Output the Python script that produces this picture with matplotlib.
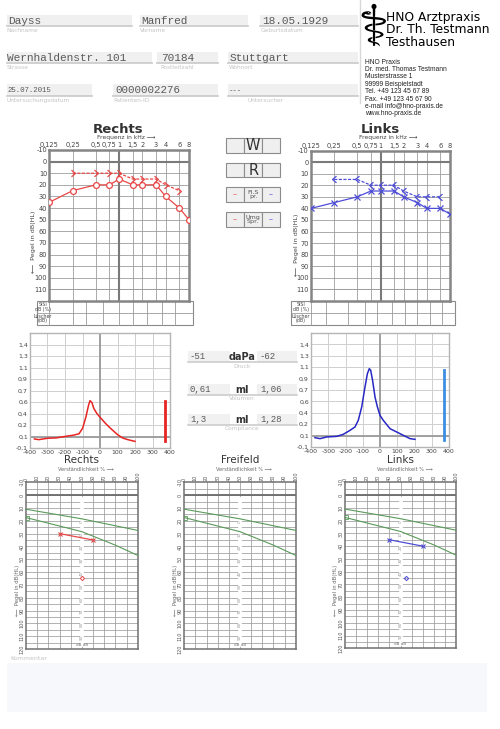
import matplotlib
matplotlib.use('Agg')
import matplotlib.pyplot as plt
import numpy as np
from matplotlib.patches import Rectangle
from matplotlib.path import Path

# ---------------- data ----------------
field_values = ["Dayss", "Manfred", "18.05.1929", "Wernhaldenstr. 101", "70184",
                "Stuttgart", "25.07.2015", "0000002276", "---"]
field_labels = ["Nachname", "Vorname", "Geburtsdatum", "Strasse", "Postleitzahl",
                "Wohnort", "Untersuchungsdatum", "Patienten-ID", "Untersucher"]
logo_lines = ["HNO Arztpraxis", "Dr. Th. Testmann", "Testhausen"]
address_lines = ["HNO Praxis", "Dr. med. Thomas Testmann", "Musterstrasse 1",
                 "99999 Beispielstadt", "Tel. +49 123 45 67 89", "Fax. +49 123 45 67 90",
                 "e-mail info@hno-praxis.de", "www.hno-praxis.de"]

freqs = [0.125, 0.25, 0.5, 0.75, 1, 1.5, 2, 3, 4, 6, 8]
freq_labels = ["0,125", "0,25", "0,5", "0,75", "1", "1,5", "2", "3", "4", "6", "8"]
db_ticks = list(range(-10, 111, 10))
right_air = [35, 25, 20, 20, 15, 20, 20, 20, 30, 40, 50]
bone_freqs = [0.25, 0.5, 0.75, 1, 1.5, 2, 3, 4, 6]
right_bone = [10, 10, 10, 10, 15, 15, 15, 20, 25]
left_air = [40, 35, 30, 25, 25, 25, 30, 35, 40, 40, 45]
left_bone = [15, 15, 20, 20, 20, 25, 30, 30, 30]

buttons = ["W", "R", "Fl.S\npr.", "Umg\nSpr."]

pressure_ticks = [-400, -300, -200, -100, 0, 100, 200, 300, 400]
compliance_tick_labels = ["-0,1", "0,1", "0,2", "0,4", "0,6", "0,7", "0,9", "1,1", "1,3", "1,4", ""]
tymp_right_p = [-375, -350, -299, -250, -200, -150, -120, -99, -80, -65, -57, -46, -36, -19,
                0, 30, 59, 101, 130, 160, 200]
tymp_right_c = [0.03, 0.02, 0.04, 0.045, 0.066, 0.085, 0.104, 0.185, 0.351, 0.518, 0.58, 0.551,
                0.471, 0.399, 0.342, 0.257, 0.185, 0.09, 0.043, 0.019, -0.005]
tymp_left_p = [-377, -348, -309, -251, -213, -174, -145, -126, -106, -87, -73, -62, -54, -43,
               -29, -15, 0, 19, 58, 97, 135, 174, 203]
tymp_left_c = [0.035, 0.021, 0.045, 0.054, 0.083, 0.141, 0.19, 0.286, 0.479, 0.769, 0.962, 1.034,
               1.01, 0.865, 0.624, 0.479, 0.358, 0.286, 0.165, 0.117, 0.069, 0.021, 0.011]
right_peak = 0.58
left_peak = 1.02
measure_left = ["-51", "0,61", "1,3"]
measure_right = ["-62", "1,06", "1,28"]
measure_units = ["daPa", "ml", "ml"]
measure_names = ["Druck", "Volumen", "Compliance"]

speech_ticks = list(range(0, 101, 10))
speech_db_ticks = list(range(-10, 121, 10))
norm_upper_x = [0, 50, 100]
norm_upper_y = [11, 18.5, 27.5]
norm_lower_x = [0, 50, 80, 100]
norm_lower_y = [17.5, 28.5, 39, 47]
right_speech_x = [30, 60]
right_speech_y = [30, 35]
right_single_x = [50]
right_single_y = [65]
left_speech_x = [40, 70]
left_speech_y = [35, 40]
left_single_x = [55]
left_single_y = [65]
scale_labels = ["0", "10", "20", "30", "40", "50", "60", "70", "80", "90"]

# ---------------- style ----------------
RED = '#e84848'
BLUE = '#4d4dd8'
GRID = '#9c9c9c'
FRAME = '#858585'
W, H = 500, 729

fig = plt.figure(figsize=(5, 7.29), dpi=100)
fig.patch.set_facecolor('white')


def ax_px(x0, y0, x1, y1):
    return fig.add_axes([x0 / W, 1 - y1 / H, (x1 - x0) / W, (y1 - y0) / H])


bg = fig.add_axes([0, 0, 1, 1])
bg.set_xlim(0, W)
bg.set_ylim(H, 0)
bg.axis('off')

# ---------------- header ----------------
field_layout = [  # box x0, x1, ytop, ybot, text x, fontsize, label x
    (6.7, 131.7, 15, 26, 8.3, 8, 6.7), (140, 248, 15, 26, 141, 8, 140),
    (260, 358, 15, 26, 261.7, 8, 260.7),
    (6.7, 151.7, 52, 63, 7.3, 8, 6.7), (156.7, 218.3, 52, 63, 160.7, 8, 160),
    (228, 358, 52, 63, 230, 8, 229),
    (6.7, 91.7, 84, 95.5, 7.3, 5.3, 6.7), (112.7, 218.3, 84, 95.5, 115, 7.8, 113),
    (228, 358, 84, 95.5, 229, 5.3, 248)]
for val, lab, (x0, x1, yt, yb, tx, fs, lx) in zip(field_values, field_labels, field_layout):
    bg.add_patch(Rectangle((x0, yt), x1 - x0, yb - yt, facecolor='#f0f0f0', edgecolor='none'))
    bg.plot([x0, x1], [yb, yb], color='#c9c9c9', lw=1.2)
    bg.text(tx, (yt + yb) / 2 + 0.5, val, family='Liberation Mono', fontsize=fs,
            color='#5a5a5a', ha='left', va='center')
    bg.text(lx, yb + 4.5, lab, fontsize=4.2, color='#c4c4c4', ha='left', va='center')

bg.plot([359.5, 359.5], [0, 103], color='#d8d8d8', lw=1)
bg.text(373.5, 29, "\u2695", fontsize=42, ha='center', va='center', color='black')
for i, t in enumerate(logo_lines):
    bg.text(386, 17.3 + i * 12.5, t, fontsize=8.8, ha='left', va='center', color='black')
for i, t in enumerate(address_lines):
    bg.text(365, 62.3 + i * 7.34, t, family='Liberation Sans', fontsize=4.8,
            ha='left', va='center', color='#222222')

# ---------------- audiograms ----------------
chev_r = Path([(-0.6, 1), (0.6, 0), (-0.6, -1)], [Path.MOVETO, Path.LINETO, Path.LINETO])
chev_l = Path([(0.6, 1), (-0.6, 0), (0.6, -1)], [Path.MOVETO, Path.LINETO, Path.LINETO])


def audiogram(box, air, bone, color, air_marker, bone_marker, title, title_x):
    ax = ax_px(*box)
    ax.set_xscale('log', base=2)
    ax.set_xlim(0.125, 8)
    ax.set_ylim(120, -10)
    for f in freqs[1:-1]:
        ax.axvline(f, color=GRID, lw=0.6, zorder=1)
    for d in db_ticks[1:] + [110]:
        ax.axhline(d, color=GRID, lw=0.6, zorder=1)
    ax.axhline(0, color='#7a7a7a', lw=1.5, zorder=1)
    ax.axvline(1, color='#7a7a7a', lw=1.5, zorder=1)
    for s in ax.spines.values():
        s.set_color(FRAME)
        s.set_linewidth(1.8)
    ax.set_xticks(freqs)
    ax.set_xticklabels(freq_labels)
    ax.xaxis.set_minor_locator(matplotlib.ticker.NullLocator())
    ax.xaxis.tick_top()
    ax.tick_params(axis='x', length=0, pad=1.2, labelsize=4.8, colors='#444444')
    ax.set_yticks(db_ticks)
    ax.set_yticklabels([str(d) for d in db_ticks])
    ax.tick_params(axis='y', length=0, pad=1.5, labelsize=4.8, colors='#444444')
    ax.plot(freqs, air, color=color, lw=0.9, marker=air_marker, ms=4.2,
            mfc='white', mec=color, mew=0.9, zorder=3)
    ax.plot(bone_freqs, bone, color=color, lw=0.9, ls=(0, (2.5, 1.2)), marker=bone_marker,
            ms=4.8, mfc='none', mec=color, mew=0.9, zorder=3)
    bg.text(title_x, 129.5, title, fontsize=9.5, fontweight='bold', color='#333333',
            ha='center', va='center')
    bg.text(title_x + 8, 137.5, "Frequenz in kHz \u27f6", fontsize=4.3, color='#444444',
            ha='center', va='center')
    return ax


audiogram((49.3, 150, 189, 301), right_air, right_bone, RED, 'o', chev_r, "Rechts", 118)
audiogram((311, 150.5, 450, 301), left_air, left_bone, BLUE, 'x', chev_l, "Links", 380)
bg.text(33, 242, "\u27f5  Pegel in dB(HL)", rotation=90, fontsize=4.6, color='#444444',
        ha='center', va='center')
bg.text(296.5, 245, "\u27f5  Pegel in dB(HL)", rotation=90, fontsize=4.6, color='#444444',
        ha='center', va='center')


def sisi_table(x0, x1, xl, cols):
    y0, ym, y1 = 301, 312.7, 324.5
    bg.add_patch(Rectangle((x0, y0), x1 - x0, y1 - y0, facecolor='none', edgecolor='#8a8a8a', lw=0.8))
    bg.plot([x0, x1], [ym, ym], color='#9a9a9a', lw=0.6)
    for c in [xl] + cols:
        bg.plot([c, c], [y0, y1], color='#9a9a9a', lw=0.6)
    bg.text((x0 + xl) / 2, (y0 + ym) / 2, "SISI\ndB (%)", fontsize=3.4, ha='center', va='center',
            color='#444444', linespacing=0.9)
    bg.text((x0 + xl) / 2, (ym + y1) / 2, "Lüscher\n(dB)", fontsize=3.4, ha='center', va='center',
            color='#444444', linespacing=0.9)


sisi_table(36.7, 192.7, 49.3, [72.7, 86, 103, 119, 133, 146.7, 161.7, 175])
sisi_table(291, 455, 311, [325.7, 348.3, 365, 377.3, 391.7, 405, 417.3, 430, 441.7])

# ---------------- middle buttons ----------------
btn_tops = [138.3, 162.7, 186.7, 211.7]
for i, (lab, yt) in enumerate(zip(buttons, btn_tops)):
    hgt = 14.5 if i < 2 else 15
    for j, (cx0, cx1) in enumerate([(225.7, 244), (244, 262.3), (262.3, 280)]):
        bg.add_patch(Rectangle((cx0, yt), cx1 - cx0, hgt, facecolor='#efefef',
                               edgecolor='#8c8c8c', lw=0.8))
    if i < 2:
        bg.text(253.2, yt + hgt / 2 + 0.3, lab, fontsize=10.5, ha='center', va='center', color='#333333')
    else:
        bg.text(253.2, yt + hgt / 2, lab, fontsize=4.6, ha='center', va='center', color='#555555',
                linespacing=0.85)
        bg.text(235, yt + hgt / 2, "--", fontsize=5, ha='center', va='center', color=RED)
        bg.text(271, yt + hgt / 2, "--", fontsize=5, ha='center', va='center', color=BLUE)

# ---------------- tympanograms ----------------
comp_ticks = [-0.1 + i * 0.165 for i in range(11)]


def tymp(box, px, cy, color, peak, bar_color):
    ax = ax_px(*box)
    ax.set_xlim(-400, 400)
    ax.set_ylim(-0.1, 1.55)
    for v in pressure_ticks[1:-1]:
        ax.axvline(v, color='#cfcfcf', lw=0.7, zorder=1)
    for v in comp_ticks[1:-1]:
        ax.axhline(v, color='#cfcfcf', lw=0.7, zorder=1)
    ax.axvline(0, color='#9a9a9a', lw=1.3, zorder=1)
    ax.axhline(comp_ticks[1], color='#9a9a9a', lw=1.3, zorder=1)
    for s in ax.spines.values():
        s.set_color('#b5b5b5')
        s.set_linewidth(1.0)
    ax.set_xticks(pressure_ticks)
    ax.set_xticklabels([str(v) for v in pressure_ticks])
    ax.set_yticks(comp_ticks)
    ax.set_yticklabels(compliance_tick_labels)
    ax.tick_params(length=0, pad=1.5, labelsize=4.5, colors='#444444')
    ax.plot(px, cy, color=color, lw=1.1, zorder=3)
    ax.plot([370, 370], [0.0, peak], color=bar_color, lw=2, zorder=3)
    return ax


tymp((30, 333, 170, 448), tymp_right_p, tymp_right_c, '#e82424', right_peak, '#e82424')
tymp((311, 333, 449, 447), tymp_left_p, tymp_left_c, '#2828c4', left_peak, '#3c8ee0')

row_y = [356.5, 389, 419.3]
for i in range(3):
    y = row_y[i]
    bg.add_patch(Rectangle((188, y - 5.5), 42, 11, facecolor='#f1f1f1', edgecolor='none'))
    bg.add_patch(Rectangle((257, y - 5.5), 40, 11, facecolor='#f1f1f1', edgecolor='none'))
    bg.plot([188, 297], [y + 5.5, y + 5.5], color='#c9c9c9', lw=1.1)
    bg.text(190, y, measure_left[i], family='Liberation Mono', fontsize=6.5, color='#5a5a5a',
            ha='left', va='center')
    bg.text(260, y, measure_right[i], family='Liberation Mono', fontsize=6.5, color='#5a5a5a',
            ha='left', va='center')
    bg.text(242, y + 0.5, measure_units[i], fontsize=7, fontweight='bold', color='#333333',
            ha='center', va='center')
    bg.text(242, y + 9.5, measure_names[i], fontsize=4.2, color='#c4c4c4', ha='center', va='center')

# ---------------- speech audiograms ----------------
NARROW = ['Liberation Sans Narrow', 'DejaVu Sans']


def speech(box, title, px, py, sx, sy, color, marker):
    ax = ax_px(*box)
    ax.set_xlim(0, 100)
    ax.set_ylim(120, -10)
    for v in speech_ticks[1:-1]:
        ax.axvline(v, color=GRID, lw=0.55, zorder=1)
    for v in range(-5, 120, 5):
        ax.axhline(v, color=GRID, lw=0.55, zorder=1)
    ax.axhline(0, color='#6a6a6a', lw=1.3, zorder=1)
    ax.plot([50, 50], [3, 117], color='white', lw=2.6, zorder=2)
    for k, lab in enumerate(scale_labels):
        ax.text(50, 21 + k * 10, lab, fontsize=3, color='#9a9a9a', ha='center', va='center',
                rotation=90, zorder=3)
    ax.text(50, 116.5, "dB dB", fontsize=3, color='#777777', ha='center', va='center', zorder=3)
    for s in ax.spines.values():
        s.set_color('#707070')
        s.set_linewidth(1.1)
    ax.set_xticks(speech_ticks)
    ax.set_xticklabels([str(v) for v in speech_ticks], rotation=90)
    ax.xaxis.tick_top()
    ax.set_yticks(speech_db_ticks)
    ax.set_yticklabels([str(v) for v in speech_db_ticks], rotation=90, va='center')
    ax.tick_params(length=0, pad=1.2, labelsize=3.6, colors='#555555')
    ax.plot(norm_upper_x, norm_upper_y, color='#5a9a5a', lw=0.8, zorder=3, clip_on=False)
    ax.plot(norm_lower_x, norm_lower_y, color='#5a9a5a', lw=0.8, zorder=3, clip_on=False)
    ax.plot([0.8], [norm_lower_y[0]], marker='s', ms=2.2, mfc='none', mec='#5a9a5a', mew=0.6,
            zorder=3)
    if px:
        ax.plot(px, py, color=color, lw=0.9, marker=marker, ms=3.2, mew=0.8, zorder=4)
        ax.plot(sx, sy, ls='none', marker='D', ms=2.2, mfc='none', mec=color, mew=0.7, zorder=4)
    x0, y0, x1, y1 = box
    cx = (x0 + x1) / 2
    bg.text(cx, 460, title, family=NARROW, fontsize=7.5, color='#333333', ha='center', va='center')
    bg.text(cx + 4, 469, "Verständlichkeit % \u27f6", fontsize=3.6, color='#666666',
            ha='center', va='center')
    bg.text(x0 - 9, 590, "\u27f5  Pegel in dB(HL)", rotation=90, fontsize=3.8, color='#666666',
            ha='center', va='center')
    return ax


speech((26, 482.3, 137.7, 649), "Rechts", right_speech_x, right_speech_y,
       right_single_x, right_single_y, RED, 'x')
speech((184.3, 482.3, 295.7, 649), "Freifeld", None, None, None, None, 'k', 'x')
speech((345, 482.3, 456, 648.3), "Links", left_speech_x, left_speech_y,
       left_single_x, left_single_y, BLUE, 'x')

# ---------------- comment box ----------------
bg.text(10, 659, "Kommentar", fontsize=4.5, color='#c4c4c4', ha='left', va='center')
bg.add_patch(Rectangle((6.7, 662.7), 480.5, 49, facecolor='#f7f8fb', edgecolor='none'))

fig.savefig('out.png', dpi=100)
